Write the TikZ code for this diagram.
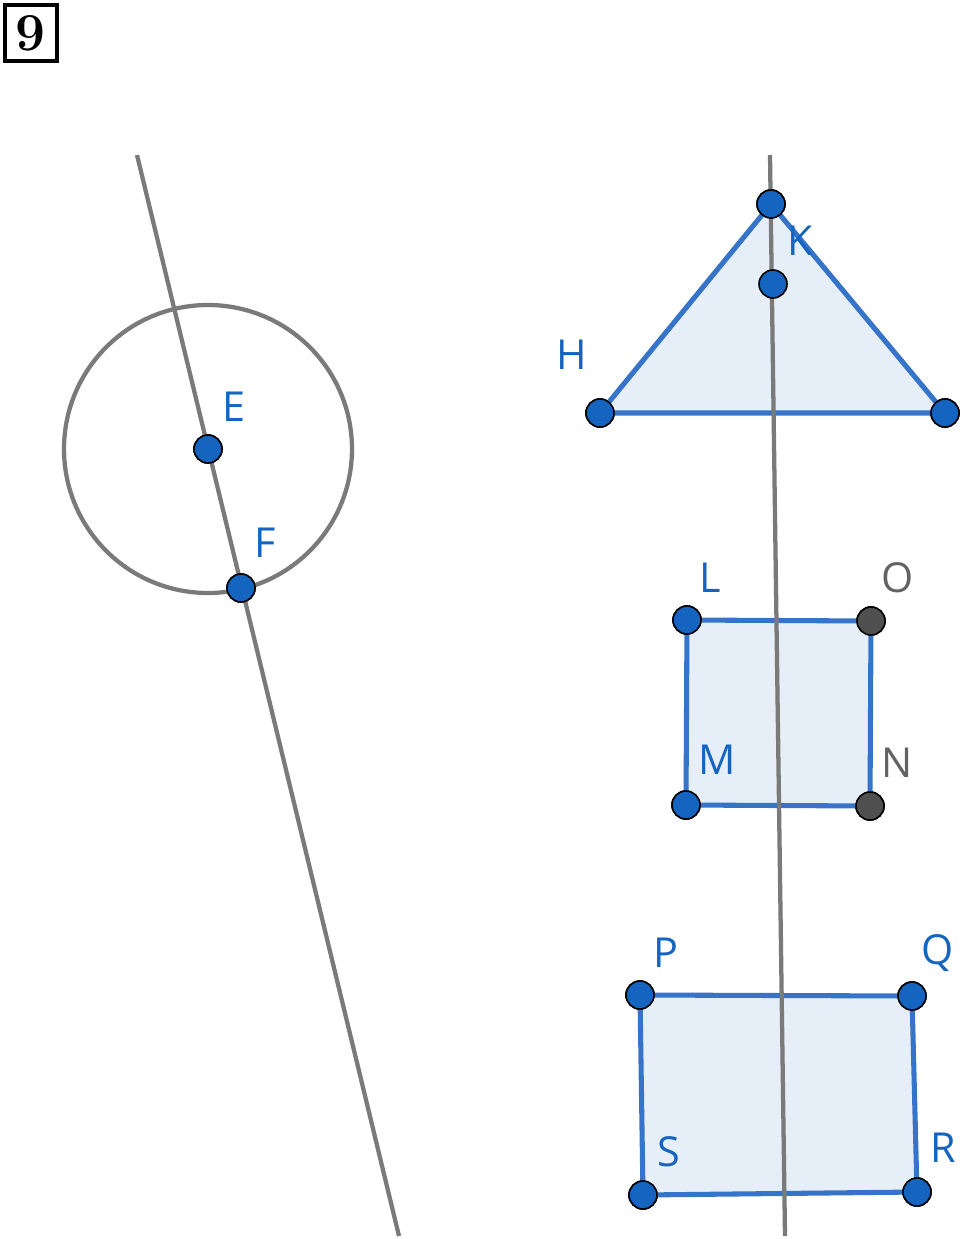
\documentclass[tikz,border=0pt]{standalone}
\usepackage{fontspec}
\setsansfont{Open Sans}
\usepackage{xcolor}
\usetikzlibrary{positioning}
\definecolor{ggblue}{HTML}{1565C0}
\definecolor{ggedge}{HTML}{3574C8}
\definecolor{ggfill}{HTML}{E6EEF8}
\definecolor{gggray}{HTML}{7A7A7A}
\definecolor{ggdark}{HTML}{505050}
\begin{document}
\begin{tikzpicture}[x=0.75pt,y=-0.75pt,
	pt/.style={circle,draw=black,line width=1.2pt,fill=ggblue,inner sep=0pt,minimum size=21pt},
	ptdark/.style={pt,fill=ggdark},
	lab/.style={text=ggblue,font=\sffamily\fontsize{31}{31}\selectfont,inner sep=0pt},
	labdark/.style={lab,text=gggray!80!black},
	gline/.style={draw=gggray,line width=3.2pt},
	poly/.style={draw=ggedge,line width=3.8pt,fill=ggfill,line join=round}]
	\useasboundingbox (0,0) rectangle (960,1239);
	% task number
	\node[draw=black,line width=3.5pt,minimum width=39pt,minimum height=42pt,inner sep=0pt,font=\bfseries\fontsize{40}{40}\selectfont] (num) at (31,33) {9};
	% points
	\coordinate (e1) at (137,155);
	\coordinate (e2) at (399,1236);
	\coordinate (v1) at (770,155);
	\coordinate (v2) at (785,1236);
	\node[pt] (E) at (208,449) {};
	\node[pt] (F) at (241,588) {};
	\node[pt] (T) at (771,204) {};
	\node[pt] (K) at (773,284) {};
	\node[pt] (H) at (600,413) {};
	\node[pt] (B) at (945,413) {};
	\node[pt] (L) at (687,620) {};
	\node[ptdark] (O) at (871,621) {};
	\node[pt] (M) at (686,805) {};
	\node[ptdark] (N) at (870,806) {};
	\node[pt] (P) at (640,995) {};
	\node[pt] (Q) at (912,996) {};
	\node[pt] (S) at (643,1195) {};
	\node[pt] (R) at (917,1192) {};
	% polygons
	\draw[poly] (T.center) -- (H.center) -- (B.center) -- cycle;
	\draw[poly] (L.center) -- (O.center) -- (N.center) -- (M.center) -- cycle;
	\draw[poly] (P.center) -- (Q.center) -- (R.center) -- (S.center) -- cycle;
	% lines and circle
	\draw[gline] (e1) -- (e2);
	\draw[gline] (v1) -- (v2);
	\draw[gline] (E.center) circle[radius=144];
	% points again on top
	\foreach \p/\s in {E/pt,F/pt,T/pt,K/pt,H/pt,B/pt,L/pt,O/ptdark,M/pt,N/ptdark,P/pt,Q/pt,S/pt,R/pt}
		\node[\s] at (\p) {};
	% labels
	\node[lab] (lE) at (234,407) {E};
	\node[lab] (lF) at (265,543) {F};
	\node[lab] (lH) at (572,355) {H};
	\node[lab] (lK) at (800,241) {K};
	\node[lab] (lL) at (710,578) {L};
	\node[labdark] (lO) at (898,578) {O};
	\node[lab] (lM) at (717,760) {M};
	\node[labdark] (lN) at (897,763) {N};
	\node[lab] (lP) at (666,953) {P};
	\node[lab] (lQ) at (938,953) {Q};
	\node[lab] (lS) at (669,1152) {S};
	\node[lab] (lR) at (943,1148) {R};
\end{tikzpicture}
\end{document}
